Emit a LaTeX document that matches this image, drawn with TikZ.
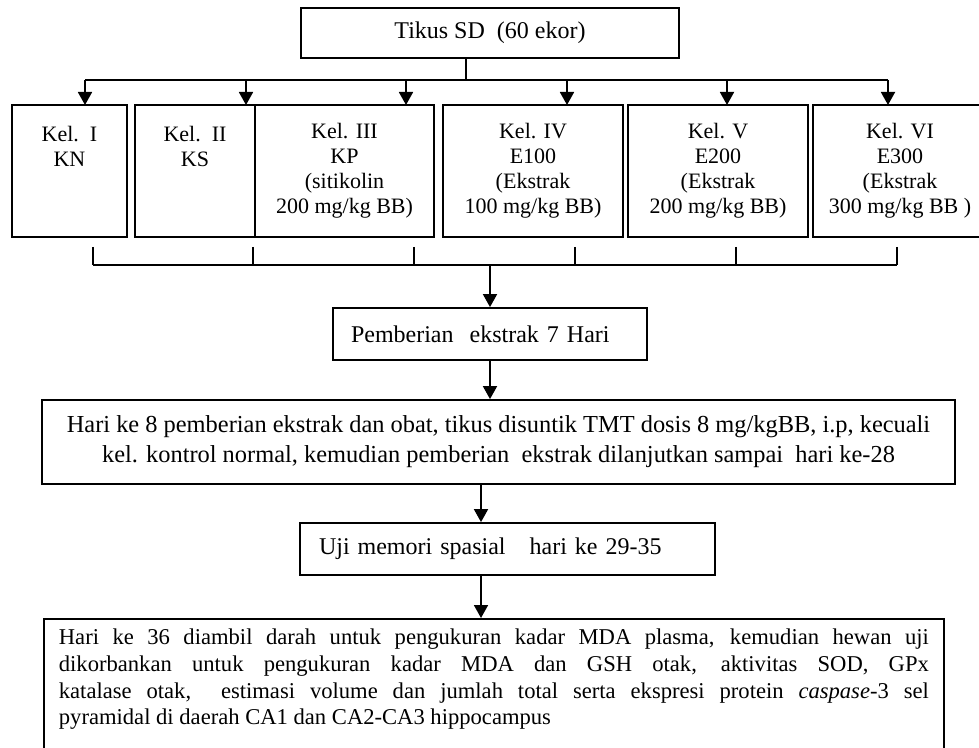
\documentclass[tikz,border=0pt]{standalone}
\usepackage{fontspec}
\setmainfont{Liberation Serif}
\usetikzlibrary{arrows.meta}

\begin{document}
\begin{tikzpicture}[x=0.5pt,y=-0.5pt,
  kotak/.style={draw,line width=0.9pt,rectangle,inner sep=0pt},
  kel/.style={kotak,minimum height=66pt,align=center,font=\fontsize{11}{12.5}\selectfont},
  garis/.style={line width=0.9pt},
  panah/.style={line width=0.9pt,-{Triangle[length=6.5pt,width=7pt]}}]
\useasboundingbox (0,0) rectangle (979,748);
\clip (0,0) rectangle (979,748);
%---------------------------------------------------
\node[kotak,minimum width=189pt,minimum height=25pt,font=\fontsize{12}{14}\selectfont]
  (tikus) at (490,33) {Tikus SD\ \ (60 ekor)};
%---------------------------------------------------
\node[kel,minimum width=57.5pt] (k1) at (69.5,171) {Kel.\ \ I\\KN\\~\\~};
\node[kel,minimum width=60pt]   (k2) at (195,171)  {Kel.\ \ II\\KS\\~\\~};
\node[kel,minimum width=89.5pt] (k3) at (344.5,171) {Kel. III\\KP\\(sitikolin\\200 mg/kg BB)};
\node[kel,minimum width=90pt]   (k4) at (533,171)  {Kel. IV\\E100\\(Ekstrak\\100 mg/kg BB)};
\node[kel,minimum width=90pt]   (k5) at (718,171)  {Kel. V\\E200\\(Ekstrak\\200 mg/kg BB)};
\node[kel,minimum width=87pt]   (k6) at (900,171)  {Kel. VI\\E300\\(Ekstrak\\300 mg/kg BB )};
%---------------------------------------------------
\coordinate (split) at (466,80);
\foreach \i/\x in {1/85,2/246,3/406,4/567,5/727,6/888}
  \coordinate (a\i) at (\x,105);
\draw[garis] (tikus.south -| split) -- (split);
\draw[garis] (split -| a1) -- (split -| a6);
\foreach \i in {1,...,6}
  \draw[panah] (split -| a\i) -- (a\i);
%---------------------------------------------------
\coordinate (gabung) at (490,265);
\foreach \i/\x in {1/93,2/253,3/414,4/575,5/736,6/897}
  \coordinate (b\i) at (\x,247);
\foreach \i in {1,...,6}
  \draw[garis] (b\i) -- (b\i |- gabung);
\draw[garis] (b1 |- gabung) -- (b6 |- gabung);
%---------------------------------------------------
\node[kotak,minimum height=26pt,text width=139pt,inner xsep=9pt,align=left,
  font=\fontsize{12}{14}\selectfont] (beri) at (490,334) {Pemberian\ \ ekstrak 7 Hari};
\draw[panah] (gabung) -- (beri.north);
%---------------------------------------------------
\node[kotak,minimum width=456.5pt,minimum height=42pt,align=center,
  font=\fontsize{12.2}{15}\selectfont] (hari8) at (498.5,442)
  {Hari ke 8 pemberian ekstrak dan obat, tikus disuntik TMT dosis 8 mg/kgBB, i.p, kecuali\\
   kel. kontrol normal, kemudian pemberian\ \ ekstrak dilanjutkan sampai\ \ hari ke-28};
\draw[panah] (beri.south) -- (beri.south |- hari8.north);
%---------------------------------------------------
\coordinate (jalur) at (481,500);
\node[kotak,minimum height=26pt,text width=188.5pt,inner xsep=9.5pt,align=left,
  font=\fontsize{12}{14}\selectfont] (uji) at (507.5,549) {Uji memori spasial\ \ \ hari ke 29-35};
\draw[panah] (hari8.south -| jalur) -- (uji.north -| jalur);
%---------------------------------------------------
\node[kotak,anchor=north west,inner xsep=7.5pt,inner ysep=5pt] (akhir) at (43,618)
  {\parbox[t][74pt][t]{435pt}{\fontsize{11.3}{13.4}\selectfont
   Hari ke 36 diambil darah untuk pengukuran kadar MDA plasma, kemudian hewan uji\linebreak
   dikorbankan untuk pengukuran kadar MDA dan GSH otak, aktivitas SOD, GPx\linebreak
   katalase otak,\ \ estimasi volume dan jumlah total serta ekspresi protein \textit{caspase}-3 sel\linebreak
   pyramidal di daerah CA1 dan CA2-CA3 hippocampus\par}};
\draw[panah] (uji.south -| jalur) -- (akhir.north -| jalur);
\end{tikzpicture}
\end{document}
